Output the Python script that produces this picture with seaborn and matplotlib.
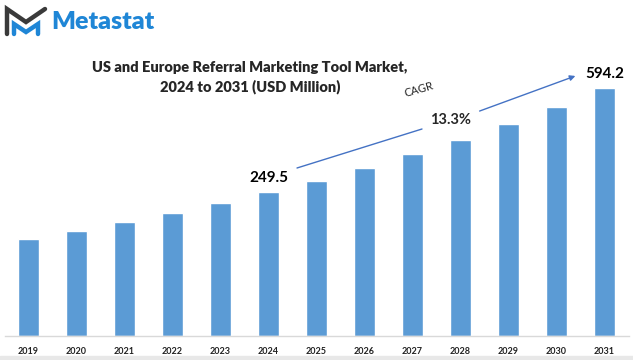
import matplotlib
matplotlib.use("Agg")
import matplotlib.pyplot as plt
import seaborn as sns
import pandas as pd
from matplotlib.patches import Rectangle

# data (bar heights, USD million scale of the 2024 bar)
years = ["2019", "2020", "2021", "2022", "2023", "2024", "2025",
         "2026", "2027", "2028", "2029", "2030", "2031"]
market = [168, 182, 198, 213, 230, 249.5, 269, 291, 315, 340, 367, 397, 430]
label_years = ["2024", "2031"]
label_texts = ["249.5", "594.2"]
cagr_text = "13.3%"

df = pd.DataFrame({"year": years, "value": market})

sns.set_theme(style="white")
plt.rcParams["font.family"] = ["Lato", "DejaVu Sans"]

W, H = 633, 360
fig = plt.figure(figsize=(W / 100, H / 100), dpi=100)

def fx(x):
    return x / W

def fy(y):
    return 1 - y / H

ax = fig.add_axes([fx(4.5), fy(336), fx(628.5) - fx(4.5), fy(0) - fy(336)])
sns.barplot(data=df, x="year", y="value", color="#5B9BD5", width=0.44,
            saturation=1, ax=ax)
ax.set_ylim(0, 582)
ax.set_xlim(-0.5, 12.5)
ax.set_xlabel("")
ax.set_ylabel("")
ax.set_yticks([])
for s in ["left", "right", "top"]:
    ax.spines[s].set_visible(False)
ax.spines["bottom"].set_color("#d9d9d9")
ax.spines["bottom"].set_linewidth(1)
ax.tick_params(axis="x", length=0, pad=8, labelsize=6.5)
for t in ax.get_xticklabels():
    t.set_fontweight("bold")
    t.set_color("#222222")

# value labels above selected bars
for yr, txt in zip(label_years, label_texts):
    i = years.index(yr)
    v = market[i]
    ax.annotate(txt, (i, v), xytext=(0, 5), textcoords="offset points",
                ha="center", va="bottom", fontsize=11, fontweight="bold",
                color="black")

# title
fig.text(fx(250), fy(67), "US and Europe Referral Marketing Tool Market,",
         ha="center", va="center", fontsize=10.5, fontweight="heavy")
fig.text(fx(250), fy(87), "2024 to 2031 (USD Million)",
         ha="center", va="center", fontsize=10.5, fontweight="heavy")

# CAGR arrow
fig.add_artist(plt.Line2D([fx(297), fx(422)], [fy(168), fy(129)],
                          color="#4472C4", lw=1))
fig.add_artist(matplotlib.patches.FancyArrowPatch(
    (fx(477), fy(112)), (fx(578), fy(75)), transform=fig.transFigure,
    arrowstyle="-|>", mutation_scale=8, color="#4472C4", lw=1))
fig.text(fx(451), fy(120), cagr_text, ha="center", va="center",
         fontsize=10.5, fontweight="bold")
fig.text(fx(419), fy(90), "CAGR", ha="center", va="center", fontsize=8,
         rotation=16)

# logo
fig.add_artist(plt.Line2D([fx(7), fx(7), fx(26), fx(45)],
                          [fy(34), fy(9), fy(22), fy(9)],
                          color="#3a3a3a", lw=3.2, solid_joinstyle="miter"))
fig.add_artist(plt.Line2D([fx(14), fx(14), fx(26), fx(38), fx(38)],
                          [fy(34), fy(24), fy(32), fy(24), fy(34)],
                          color="#1f86d6", lw=3.2, solid_joinstyle="miter"))
fig.text(fx(51), fy(22), "Metastat", ha="left", va="center", fontsize=18,
         fontweight="heavy", color="#1f86d6")

# bottom grey strip
fig.add_artist(Rectangle((0, 0), 1, fy(356), transform=fig.transFigure,
                         color="#e8e8e8", zorder=0))

fig.savefig("out.png", dpi=100)
